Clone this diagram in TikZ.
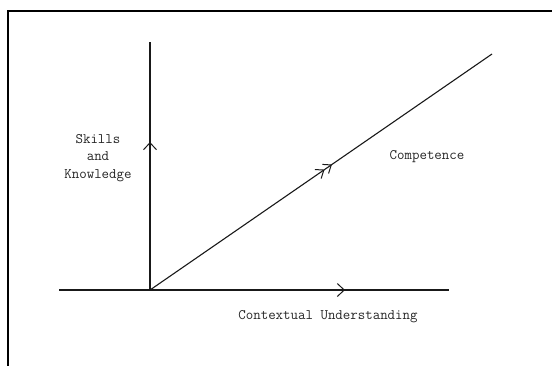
\documentclass[tikz,border=0pt]{standalone}
\usepackage{fontspec}
\usetikzlibrary{arrows.meta,decorations.markings}

\begin{document}
\begin{tikzpicture}[x=1pt, y=-1pt,
  axis/.style={line width=1.1pt, black!90},
  label/.style={align=center, text=black!85, inner sep=0pt,
                font=\ttfamily\fontsize{14.5}{17.5}\selectfont},
  midarrow/.style={postaction={decorate}, decoration={markings,
      mark=at position #1 with {\arrow[line width=1pt]{Straight Barb[length=7pt,width=13pt]}}}},
  twoarrow/.style={postaction={decorate}, decoration={markings,
      mark=at position #1 with {\arrow[line width=1pt]{Straight Barb[length=7pt,width=11pt]}},
      mark=at position #1-9pt with {\arrow[line width=1pt]{Straight Barb[length=7pt,width=11pt]}}}}
]
  \clip (0,0) rectangle (552,365);
  \draw[line width=2.4pt] (8,11) rectangle (570,380);

  \coordinate (origin) at (150,290);
  \coordinate (ytop) at (150,42);
  \coordinate (xleft) at (59,290);
  \coordinate (xright) at (449,290);
  \coordinate (diagend) at (492,54);

  \node[label] (skills) at (98,158) {Skills\\and\\Knowledge};
  \node[label] (comp) at (427,157) {Competence};
  \node[label] (context) at (328,317) {Contextual Understanding};

  \draw[axis, midarrow=148pt] (origin) -- (ytop);
  \draw[axis, midarrow=286pt] (xleft) -- (xright);
  \draw[axis, twoarrow=221pt] (origin) -- (diagend);
\end{tikzpicture}
\end{document}
